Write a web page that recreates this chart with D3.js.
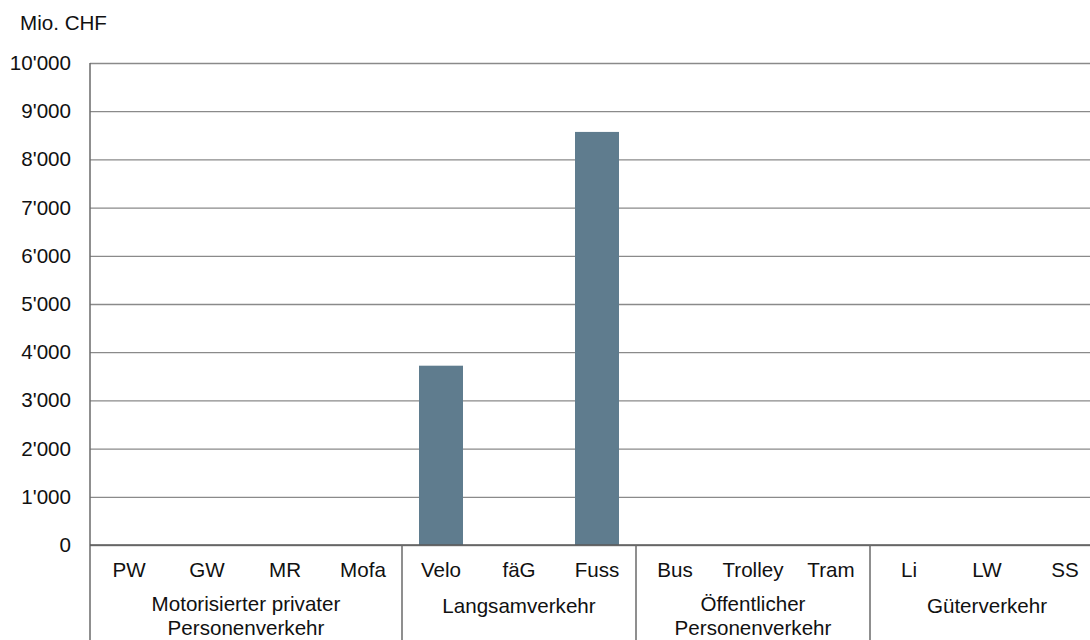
<!DOCTYPE html>
<html>
<head>
<meta charset="utf-8">
<script src="https://cdn.jsdelivr.net/npm/d3@7"></script>
<style>
  html, body { margin: 0; padding: 0; background: #fff; }
  svg { display: block; font-family: "Liberation Sans", Arial, sans-serif; }
</style>
</head>
<body>
<svg id="chart" width="1090" height="640"></svg>
<script>
const categories = ["PW", "GW", "MR", "Mofa", "Velo", "fäG", "Fuss", "Bus", "Trolley", "Tram", "Li", "LW", "SS"];
const values = [0, 0, 0, 0, 3720, 0, 8570, 0, 0, 0, 0, 0, 0];
const groupNames = [
  ["Motorisierter privater", "Personenverkehr"],
  ["Langsamverkehr"],
  ["Öffentlicher", "Personenverkehr"],
  ["Güterverkehr"]
];
const groupSizes = [4, 3, 3, 3];
const yTicks = [0, 1000, 2000, 3000, 4000, 5000, 6000, 7000, 8000, 9000, 10000];
const unitLabel = "Mio. CHF";

(function () {
const svg = d3.select("#chart");
const mLeft = 90, mRight = 1104, mTop = 63, mBottom = 545;
const fontSize = 20.6;

const x = d3.scaleBand().domain(categories).range([mLeft, mRight]).paddingInner(0.436).paddingOuter(0.218);
const y = d3.scaleLinear().domain([0, 10000]).range([mBottom, mTop]);
const fmt = d3.formatLocale({ decimal: ".", thousands: "'", grouping: [3], currency: ["", ""] }).format(",d");

// gridlines + tick labels
const yAxis = d3.axisLeft(y).tickValues(yTicks).tickSize(-(mRight - mLeft)).tickFormat(fmt).tickPadding(19);
const gy = svg.append("g").attr("transform", `translate(${mLeft},0)`).call(yAxis);
gy.select(".domain").remove();
gy.selectAll(".tick line").attr("stroke", "#8a8a8a").attr("stroke-width", 1.3);
gy.selectAll(".tick text").attr("font-size", fontSize).attr("fill", "#111").attr("font-family", "'Liberation Sans', Arial, sans-serif");

// bars
svg.append("g").selectAll("rect").data(categories).join("rect")
  .attr("x", d => x(d))
  .attr("width", x.bandwidth())
  .attr("y", (d, i) => y(values[i]))
  .attr("height", (d, i) => y(0) - y(values[i]))
  .attr("fill", "#5f7c8e");

// y axis line
svg.append("line").attr("x1", mLeft).attr("x2", mLeft).attr("y1", mTop).attr("y2", 640)
  .attr("stroke", "#6a6a6a").attr("stroke-width", 1.5);
// baseline
svg.append("line").attr("x1", mLeft).attr("x2", mRight).attr("y1", y(0)).attr("y2", y(0))
  .attr("stroke", "#5a5a5a").attr("stroke-width", 1.6);

// category labels
const xAxis = d3.axisBottom(x).tickSize(0).tickPadding(0);
const gx = svg.append("g").attr("transform", `translate(0,${y(0)})`).call(xAxis);
gx.select(".domain").remove();
gx.selectAll(".tick text").attr("font-size", fontSize).attr("fill", "#111")
  .attr("font-family", "'Liberation Sans', Arial, sans-serif")
  .attr("dy", null).attr("y", 32);

// group separators and labels
let idx = 0;
const step = x.step();
const groupData = groupSizes.map((n, i) => {
  const start = x.range()[0] + idx * step;
  idx += n;
  return { start, end: x.range()[0] + idx * step, lines: groupNames[i] };
});
svg.append("g").selectAll("line").data(groupData).join("line")
  .attr("x1", d => d.end).attr("x2", d => d.end)
  .attr("y1", y(0)).attr("y2", 640)
  .attr("stroke", "#6a6a6a").attr("stroke-width", 1.5);
const gl = svg.append("g").selectAll("g").data(groupData).join("g");
gl.selectAll("text").data(d => d.lines.map((l, i) => ({ l, i, n: d.lines.length, cx: (d.start + d.end) / 2 }))).join("text")
  .attr("text-anchor", "middle").attr("font-size", fontSize).attr("fill", "#111")
  .attr("x", t => t.cx)
  .attr("y", t => t.n === 1 ? 613 : (t.i === 0 ? 610.5 : 634.5))
  .text(t => t.l);

// unit label
svg.append("text").attr("x", 20).attr("y", 30).attr("font-size", fontSize).attr("fill", "#111").text(unitLabel);
})();
</script>
</body>
</html>
